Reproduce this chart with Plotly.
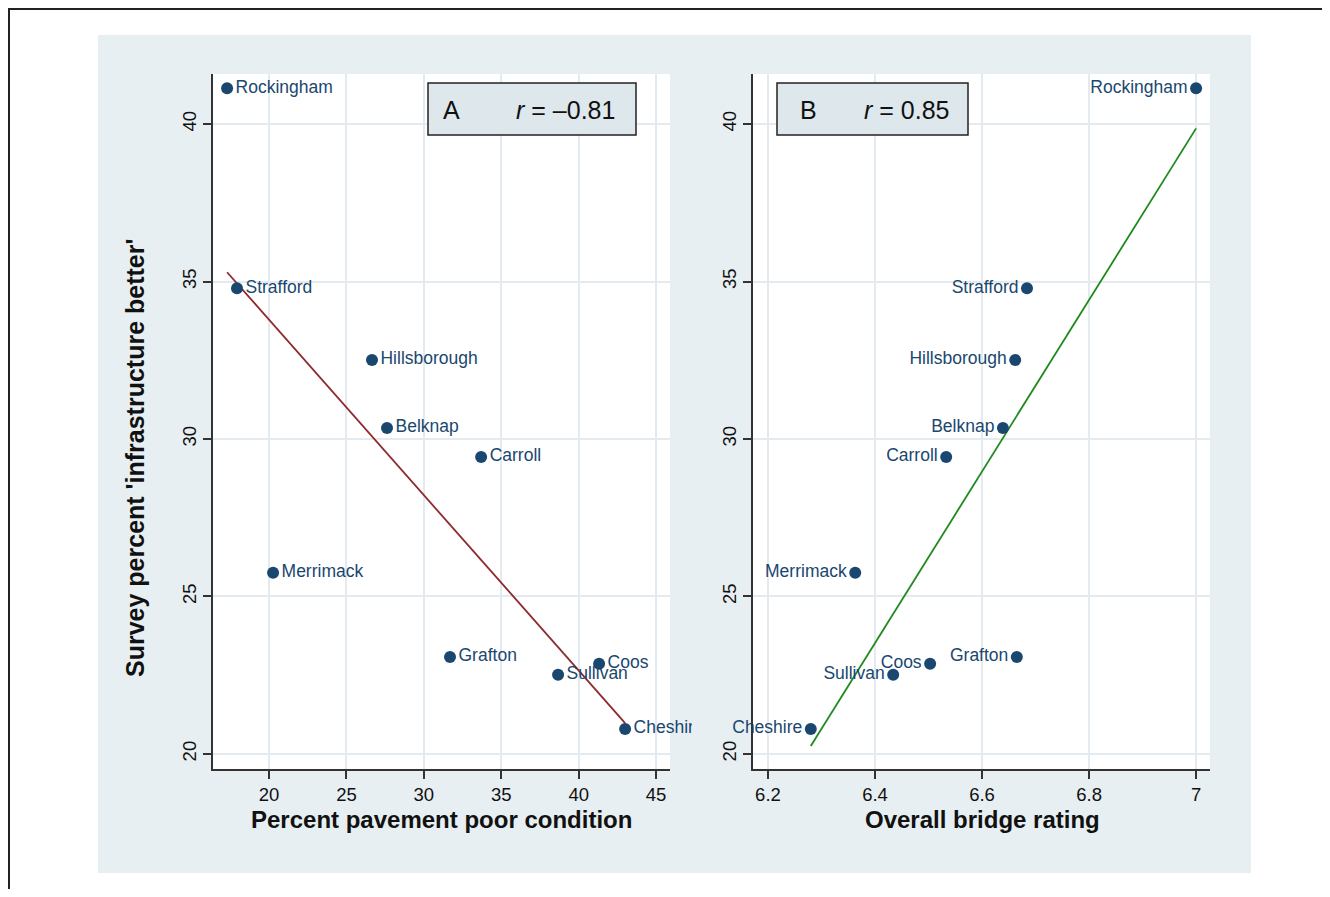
import numpy as np
import plotly.graph_objects as go

# ---- data ----
counties = ["Rockingham", "Strafford", "Hillsborough", "Belknap", "Carroll",
            "Merrimack", "Grafton", "Coos", "Sullivan", "Cheshire"]
survey_better = [41.14, 34.79, 32.51, 30.35, 29.43, 25.75, 23.08, 22.86, 22.51, 20.79]
pavement_poor = [17.29, 17.93, 26.65, 27.62, 33.70, 20.26, 31.69, 41.32, 38.67, 43.00]
bridge_rating = [7.000, 6.684, 6.662, 6.639, 6.533, 6.363, 6.665, 6.503, 6.434, 6.280]

x1_ticks = [20, 25, 30, 35, 40, 45]
x2_ticks = [6.2, 6.4, 6.6, 6.8, 7.0]
x2_ticklabels = ["6.2", "6.4", "6.6", "6.8", "7"]
y_ticks = [20, 25, 30, 35, 40]

panel_a_label = "A"
panel_a_r = "<i>r</i> = \u20130.81"
panel_b_label = "B"
panel_b_r = "<i>r</i> = 0.85"

# ---- geometry helpers (page pixels -> paper) ----
W, H, OFF = 1314, 881, 8


def X(px):
    return (px - OFF) / W


def Y(py):
    return 1 - (py - OFF) / H


FONT = "Liberation Sans, Arial, sans-serif"
NAVY = "#1a476f"
PANEL = "#e8eff2"
GRID = "#e3ebf0"
AXC = "#333333"

# regression lines
ca = np.polyfit(pavement_poor, survey_better, 1)
cb = np.polyfit(bridge_rating, survey_better, 1)
xa = np.array([min(pavement_poor), max(pavement_poor)])
xb = np.array([min(bridge_rating), max(bridge_rating)])

fig = go.Figure()

fig.add_trace(go.Scatter(x=xa, y=np.polyval(ca, xa), mode="lines",
                         line=dict(color="#8e2a2e", width=1.8),
                         xaxis="x", yaxis="y", hoverinfo="skip"))
fig.add_trace(go.Scatter(x=pavement_poor, y=survey_better, mode="markers+text",
                         text=counties, textposition="middle right",
                         textfont=dict(family=FONT, size=17.5, color=NAVY),
                         marker=dict(color=NAVY, size=12),
                         cliponaxis=False, xaxis="x", yaxis="y"))

fig.add_trace(go.Scatter(x=xb, y=np.polyval(cb, xb), mode="lines",
                         line=dict(color="#1f8a1f", width=1.8),
                         xaxis="x2", yaxis="y2", hoverinfo="skip"))
fig.add_trace(go.Scatter(x=bridge_rating, y=survey_better, mode="markers+text",
                         text=counties, textposition="middle left",
                         textfont=dict(family=FONT, size=17.5, color=NAVY),
                         marker=dict(color=NAVY, size=12),
                         cliponaxis=False, xaxis="x2", yaxis="y2"))

axis_common = dict(showline=True, linecolor=AXC, linewidth=1.5,
                   ticks="outside", ticklen=8, tickwidth=1.5, tickcolor=AXC,
                   showgrid=True, gridcolor=GRID, gridwidth=1.5,
                   zeroline=False, tickfont=dict(family=FONT, size=18.5, color="#111"),
                   mirror=False)

fig.update_layout(
    width=W, height=H, autosize=False,
    margin=dict(l=0, r=0, t=0, b=0, pad=0),
    paper_bgcolor="white", plot_bgcolor="white",
    showlegend=False,
    xaxis=dict(domain=[X(213), X(670)], range=[16.38, 45.9],
               tickvals=x1_ticks, anchor="y", **axis_common),
    yaxis=dict(domain=[Y(769), Y(74)], range=[19.52, 41.59],
               tickvals=y_ticks, tickangle=-90, anchor="x", **axis_common),
    xaxis2=dict(domain=[X(753), X(1210)], range=[6.172, 7.026],
                tickvals=x2_ticks, ticktext=x2_ticklabels, anchor="y2", **axis_common),
    yaxis2=dict(domain=[Y(769), Y(74)], range=[19.52, 41.59],
                tickvals=y_ticks, tickangle=-90, anchor="x2", **axis_common),
)

shapes = [
    # outer border (top and left)
    dict(type="line", xref="paper", yref="paper", x0=0, x1=1, y0=Y(9), y1=Y(9),
         line=dict(color="#222", width=2), layer="below"),
    dict(type="line", xref="paper", yref="paper", x0=X(9), x1=X(9), y0=0, y1=Y(9),
         line=dict(color="#222", width=2), layer="below"),
    # graph region
    dict(type="rect", xref="paper", yref="paper", x0=X(98), x1=X(1251), y0=Y(873), y1=Y(35),
         fillcolor=PANEL, line=dict(width=0), layer="below"),
    dict(type="rect", xref="paper", yref="paper", x0=X(213), x1=X(670), y0=Y(769), y1=Y(74),
         fillcolor="white", line=dict(width=0), layer="below"),
    dict(type="rect", xref="paper", yref="paper", x0=X(753), x1=X(1210), y0=Y(769), y1=Y(74),
         fillcolor="white", line=dict(width=0), layer="below"),
    # label boxes
    dict(type="rect", xref="paper", yref="paper", x0=X(428), x1=X(636), y0=Y(135), y1=Y(83),
         fillcolor="#dde7ec", line=dict(color="#222", width=1.5), layer="above"),
    dict(type="rect", xref="paper", yref="paper", x0=X(777), x1=X(968), y0=Y(135), y1=Y(83),
         fillcolor="#dde7ec", line=dict(color="#222", width=1.5), layer="above"),
    # clip overflow of the Cheshire label like the original
    dict(type="rect", xref="paper", yref="paper", x0=X(692), x1=X(715), y0=Y(746), y1=Y(712),
         fillcolor=PANEL, line=dict(width=0), layer="above"),
]
fig.update_layout(shapes=shapes)


def ann(text, px, py, size, bold=False, angle=0):
    return dict(text=("<b>%s</b>" % text) if bold else text, x=X(px), y=Y(py),
                xref="paper", yref="paper", xanchor="center", yanchor="middle",
                showarrow=False, textangle=angle,
                font=dict(family=FONT, size=size, color="#111"))


fig.update_layout(annotations=[
    ann("Percent pavement poor condition", 441, 819, 24, bold=True),
    ann("Overall bridge rating", 982, 819, 24, bold=True),
    ann("Survey percent 'infrastructure better'", 135, 458, 25, bold=True, angle=-90),
    ann(panel_a_label, 451, 110, 25),
    ann(panel_a_r, 565, 110, 25),
    ann(panel_b_label, 808, 110, 25),
    ann(panel_b_r, 906, 110, 25),
])

fig.write_html("out.html")
